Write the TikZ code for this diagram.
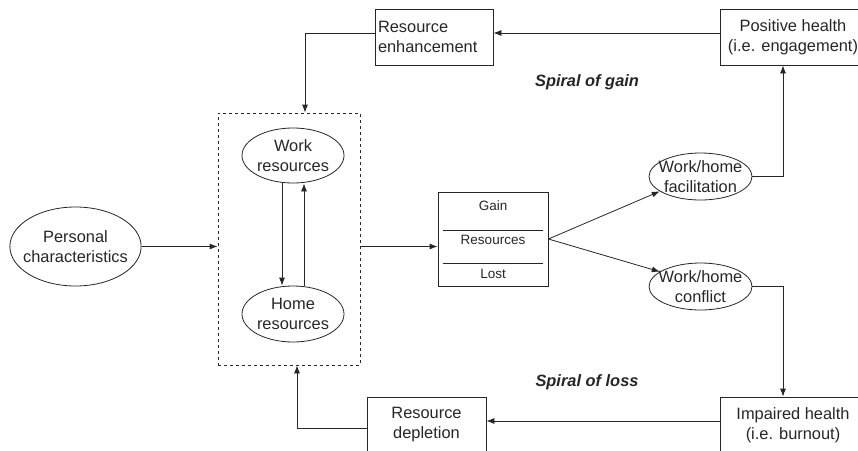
\documentclass[tikz,border=0pt]{standalone}
\usepackage{fontspec}
\setmainfont{Liberation Sans}
\usetikzlibrary{shapes.geometric,arrows.meta}

\begin{document}
\begin{tikzpicture}[x=1pt,y=-1pt,line width=0.8pt,draw=black!85,
    every node/.style={font=\fontsize{16.4}{20}\selectfont,text=black!85},
    oval node/.style={ellipse,draw,inner sep=-6pt,align=center},
    box node/.style={rectangle,draw,inner sep=0pt,align=center},
    small text/.style={font=\fontsize{13.5}{16}\selectfont},
    spiral text/.style={font=\fontsize{16.4}{20}\selectfont\bfseries\itshape},
    arr/.style={-{Latex[length=8pt,width=6pt]}}]
        \useasboundingbox (0,0) rectangle (858,450);
        \clip (0,0) rectangle (858,450);

        \node[oval node, minimum width=129, minimum height=79] at (75.5, 246.5) (pers) {Personal\\characteristics};
        \node[draw, dashed, inner sep=0pt, minimum width=142, minimum height=252] at (289, 239) (res) {};
        \node[oval node, minimum width=102, minimum height=55] at (293, 155.5) (work) {Work\\resources};
        \node[oval node, minimum width=102, minimum height=56] at (293, 314) (home) {Home\\resources};

        \node[box node, minimum width=110, minimum height=94] at (493, 239) (gain) {};
        \node[small text] at (493, 206) (gaintxt) {Gain};
        \node[small text] at (493, 240) (restxt) {Resources};
        \node[small text] at (493, 274) (losttxt) {Lost};
        \draw ([shift={(5,-9)}]gain.west) -- ([shift={(-5,-9)}]gain.east);
        \draw ([shift={(5,24)}]gain.west) -- ([shift={(-5,24)}]gain.east);

        \node[oval node, minimum width=103, minimum height=47] at (700.5, 176.5) (fac) {Work/home\\facilitation};
        \node[oval node, minimum width=103, minimum height=47] at (700.5, 286.5) (con) {Work/home\\conflict};

        \node[box node, align=left, inner xsep=3pt, text width=112, minimum height=56] at (434, 37) (enh) {Resource\\enhancement};
        \node[box node, minimum width=146, minimum height=56] at (793, 37) (pos) {Positive health\\(i.e. engagement)};
        \node[box node, minimum width=146, minimum height=56] at (793, 425) (imp) {Impaired health\\(i.e. burnout)};
        \node[box node, minimum width=119, minimum height=56] at (426.5, 425) (dep) {Resource\\depletion};

        \node[spiral text] at (587, 82) (gainlbl) {Spiral of gain};
        \node[spiral text] at (587, 382) (losslbl) {Spiral of loss};

        \path[arr]
            (pers.east) edge (pers.east -| res.west)
            (res.east |- pers.east) edge (gain.west |- pers.east)
            ([xshift=-11]work.south) edge ([xshift=-11]home.north)
            ([xshift=11]home.north) edge ([xshift=11]work.south)
            (gain.east) edge (fac.200)
            (gain.east) edge (con.160)
            ([yshift=4]pos.west) edge ([yshift=4]enh.east)
            ([yshift=4]imp.west) edge ([yshift=4]dep.east)
            ;
        \draw[arr] (fac.east) -| ([xshift=-10]pos.south);
        \draw[arr] (con.east) -| ([xshift=-10]imp.north);
        \draw[arr] ([yshift=4]enh.west) -| ([xshift=16]res.north);
        \draw[arr] ([yshift=-3]dep.west) -| ([xshift=8]res.south);
\end{tikzpicture}
\end{document}
